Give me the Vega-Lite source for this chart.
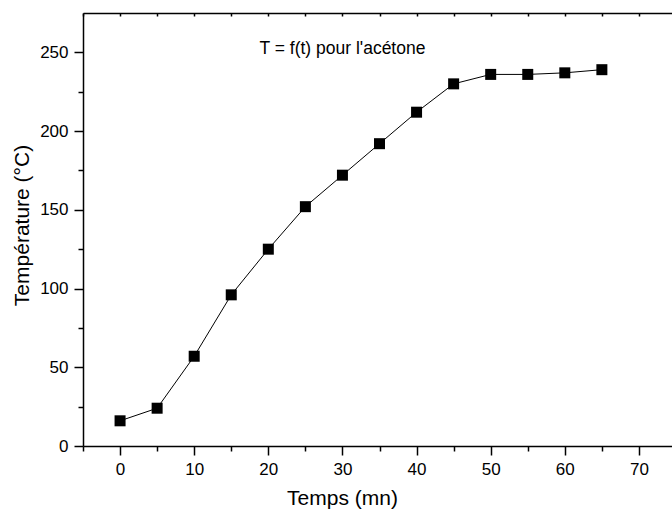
{
  "$schema": "https://vega.github.io/schema/vega-lite/v6.json",
  "autosize": {"type": "none"},
  "padding": {"left": 83, "top": 13, "right": 0, "bottom": 67},
  "width": 593,
  "height": 433,
  "background": "white",
  "config": {
    "view": {"stroke": null},
    "font": "Liberation Sans",
    "axis": {
      "domainColor": "black", "domainWidth": 1.5, "tickColor": "black", "tickWidth": 1.5,
      "labelColor": "black", "titleColor": "black", "labelFont": "Liberation Sans", "titleFont": "Liberation Sans",
      "labelFontSize": 17, "titleFontSize": 21, "titleFontWeight": "normal", "grid": false
    }
  },
  "data": {"values": [
    {"t": 0, "T": 16}, {"t": 5, "T": 24}, {"t": 10, "T": 57}, {"t": 15, "T": 96},
    {"t": 20, "T": 125}, {"t": 25, "T": 152}, {"t": 30, "T": 172}, {"t": 35, "T": 192},
    {"t": 40, "T": 212}, {"t": 45, "T": 230}, {"t": 50, "T": 236}, {"t": 55, "T": 236},
    {"t": 60, "T": 237}, {"t": 65, "T": 239}
  ]},
  "layer": [
    {
      "mark": {"type": "line", "color": "black", "strokeWidth": 1},
      "encoding": {
        "x": {"field": "t", "type": "quantitative", "scale": {"domain": [-5, 75], "nice": false, "zero": false},
          "axis": {"title": "Temps (mn)", "values": [-5,0,5,10,15,20,25,30,35,40,45,50,55,60,65,70,75],
            "labelExpr": "datum.value % 10 === 0 ? datum.label : ''",
            "tickSize": {"condition": {"test": "datum.value % 10 === 0", "value": 9}, "value": 5},
            "labelPadding": 6, "titlePadding": 10, "titleX": 259, "titleAlign": "center"}},
        "y": {"field": "T", "type": "quantitative", "scale": {"domain": [0, 275], "nice": false},
          "axis": {"title": "Température (°C)", "values": [0,25,50,75,100,125,150,175,200,225,250],
            "labelExpr": "datum.value % 50 === 0 ? datum.label : ''",
            "tickSize": {"condition": {"test": "datum.value % 50 === 0", "value": 9}, "value": 5},
            "labelPadding": 6, "titlePadding": 7, "titleY": 212, "titleAlign": "center"}}
      }
    },
    {
      "mark": {"type": "point", "shape": "square", "filled": true, "color": "black", "size": 121, "opacity": 1},
      "encoding": {
        "x": {"field": "t", "type": "quantitative",
          "axis": {"orient": "top", "title": null, "labels": false, "values": [-5,0,5,10,15,20,25,30,35,40,45,50,55,60,65,70,75], "tickSize": -3}},
        "y": {"field": "T", "type": "quantitative"}
      }
    },
    {
      "data": {"values": [{"t": 30, "T": 252, "label": "T = f(t) pour l'acétone"}]},
      "mark": {"type": "text", "fontSize": 17.5, "font": "Liberation Sans", "color": "black", "align": "center", "baseline": "middle"},
      "encoding": {
        "x": {"field": "t", "type": "quantitative", "axis": null},
        "y": {"field": "T", "type": "quantitative"},
        "text": {"field": "label"}
      }
    }
  ],
  "resolve": {"axis": {"x": "independent"}}
}
